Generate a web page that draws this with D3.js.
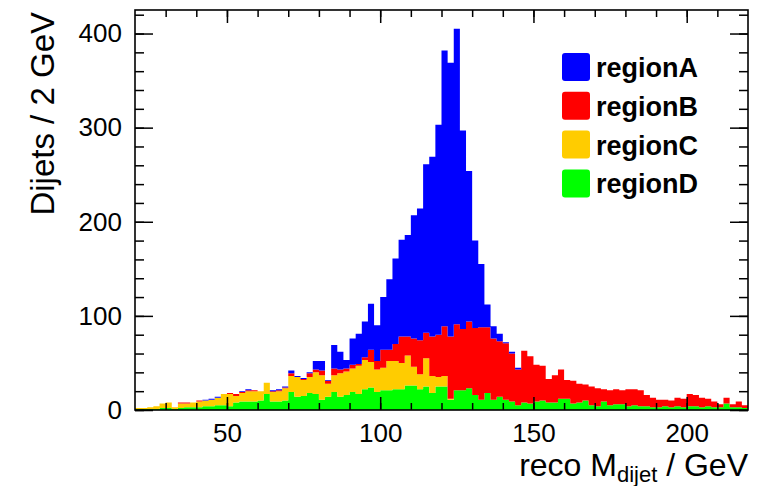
<!DOCTYPE html>
<html>
<head>
<meta charset="utf-8">
<script src="https://cdn.jsdelivr.net/npm/d3@7"></script>
<style>
  body { margin: 0; background: #fff; }
  text { font-family: "Liberation Sans", Arial, Helvetica, sans-serif; }
</style>
</head>
<body>
<svg id="canvas" width="777" height="486"></svg>
<script>
// 2 GeV bins from 20 to 220 GeV (lower edges)
const binLow = d3.range(20, 220, 2);
const binWidth = 2;

// counts per bin
const regionD = [
  1, 1, 1, 1, 2, 2, 1, 2, 3, 3, 3, 4, 4, 5, 5, 4, 8, 9, 9, 9, 10, 17, 9, 9, 10,
  19, 14, 15, 18, 17, 11, 14, 19, 14, 16, 19, 17, 22, 24, 19,
  21, 21, 22, 22, 26, 26, 22, 25, 18, 25, 25,
  11, 21, 21, 23, 16, 11, 18, 11, 14, 11, 9, 5,
  8, 7, 9, 10, 8, 8, 12, 12, 7, 8, 10, 5, 4, 9, 5, 6, 6, 4, 5, 4,
  4, 3, 3, 4, 3, 4, 3, 4, 4, 3, 4, 3, 3, 7, 3, 3, 2
];
const regionC = [
  1, 1, 2, 3, 5, 6, 2, 5, 4, 5, 6, 6, 7, 8, 12, 13, 7, 9, 11, 11, 10, 12, 10, 11, 13,
  17, 21, 17, 17, 23, 26, 14, 18, 25, 25, 25, 30, 31, 27, 24,
  24, 31, 30, 28, 32, 20, 16, 30, 18, 10, 11,
  1, 0, 0, 0, 0, 0, 0, 0, 0, 0, 0, 0,
  0, 0, 0, 0, 0, 0, 0, 0, 0, 0, 0, 0, 0, 0, 0, 0, 0, 0, 0, 0,
  0, 0, 0, 0, 0, 0, 0, 0, 0, 0, 0, 0, 0, 0, 0, 0, 0
];
const regionB = [
  0, 0, 0, 0, 0, 0, 0, 1, 1, 0, 1, 0, 0, 0, 0, 1, 2, 1, 1, 1, 0, 0, 1, 1, 1,
  3, 0, 1, 4, 3, 5, 3, 7, 4, 3, 4, 2, 3, 13, 9,
  19, 12, 18, 28, 20, 30, 36, 27, 42, 45, 53,
  66, 70, 65, 71, 71, 77, 70, 65, 59, 60, 51, 38,
  55, 50, 39, 37, 25, 29, 31, 20, 24, 20, 17, 20, 19, 13, 16, 16, 15, 18, 17, 17,
  12, 10, 8, 7, 7, 9, 9, 13, 12, 10, 8, 6, 3, 6, 3, 6, 3
];
const regionA = [
  0, 0, 0, 0, 0, 0, 0, 0, 0, 0, 0, 1, 1, 1, 0, 0, 0, 1, 1, 0, 0, 0, 1, 1, 1,
  3, 1, 1, 1, 9, 10, 1, 25, 19, 9, 28, 32, 38, 49, 38,
  56, 75, 91, 103, 108, 131, 140, 179, 191, 223, 293,
  291, 314, 211, 160, 93, 67, 24, 13, 8, 1, 2, 2,
  0, 0, 0, 0, 0, 0, 0, 0, 0, 0, 0, 0, 0, 0, 0, 0, 0, 0, 0, 0,
  0, 0, 0, 0, 0, 0, 0, 0, 0, 0, 0, 0, 0, 0, 0, 0, 0
];

const legendNames = ["regionA", "regionB", "regionC", "regionD"];
const xTickLabels = [50, 100, 150, 200];
const yTickLabels = [0, 100, 200, 300, 400];

const colors = { A: "#0000ff", B: "#ff0000", C: "#ffcc00", D: "#00ff00" };

const padL = 135, padR = 748, padT = 10, padB = 410;

const svg = d3.select("#canvas");

const x = d3.scaleLinear().domain([20, 220]).range([padL, padR]);
const y = d3.scaleLinear().domain([0, 425]).range([padB, padT]);

const rows = binLow.map((lo, i) => ({
  lo: lo,
  hi: lo + binWidth,
  D: regionD[i],
  C: regionC[i],
  B: regionB[i],
  A: regionA[i],
}));

// stack from bottom: D, C, B, A
const stack = d3.stack().keys(["D", "C", "B", "A"]);
const layers = stack(rows);

const area = d3
  .area()
  .x((d) => x(d.x))
  .y0((d) => y(d.y0))
  .y1((d) => y(d.y1));

const histG = svg.append("g").attr("class", "hist");

histG
  .selectAll("path")
  .data(layers)
  .join("path")
  .attr("d", (layer) => {
    const pts = [];
    layer.forEach((seg) => {
      pts.push({ x: seg.data.lo, y0: seg[0], y1: seg[1] });
      pts.push({ x: seg.data.hi, y0: seg[0], y1: seg[1] });
    });
    return area(pts);
  })
  .style("fill", (layer) => colors[layer.key])
  .style("stroke", "none");

// axes (ROOT style: ticks pointing inwards, on all four sides)
const axisG = svg.append("g").attr("class", "axes");

function styleAxis(g) {
  g.select(".domain").remove();
  g.selectAll(".tick line").attr("stroke", "#000").attr("stroke-width", 1.5);
  g.selectAll(".tick text")
    .attr("fill", "#000")
    .style("font-size", "26px");
}

const yMinor = d3.range(0, 421, 20);
const xMinor = d3.range(30, 220, 10);

axisG.append("g")
  .attr("transform", `translate(${padL},0)`)
  .call(d3.axisLeft(y).tickValues(yMinor).tickSize(-9).tickFormat(""))
  .call(styleAxis);
axisG.append("g")
  .attr("transform", `translate(${padL},0)`)
  .call(d3.axisLeft(y).tickValues(yTickLabels).tickSize(-18).tickPadding(13))
  .call(styleAxis);

axisG.append("g")
  .attr("transform", `translate(${padR},0)`)
  .call(d3.axisRight(y).tickValues(yMinor).tickSize(-9).tickFormat(""))
  .call(styleAxis);
axisG.append("g")
  .attr("transform", `translate(${padR},0)`)
  .call(d3.axisRight(y).tickValues(yTickLabels).tickSize(-18).tickFormat(""))
  .call(styleAxis);

axisG.append("g")
  .attr("transform", `translate(0,${padB})`)
  .call(d3.axisBottom(x).tickValues(xMinor).tickSize(-7).tickFormat(""))
  .call(styleAxis);
axisG.append("g")
  .attr("transform", `translate(0,${padB})`)
  .call(d3.axisBottom(x).tickValues(xTickLabels).tickSize(-13).tickPadding(14))
  .call(styleAxis);

axisG.append("g")
  .attr("transform", `translate(0,${padT})`)
  .call(d3.axisTop(x).tickValues(xMinor).tickSize(-7).tickFormat(""))
  .call(styleAxis);
axisG.append("g")
  .attr("transform", `translate(0,${padT})`)
  .call(d3.axisTop(x).tickValues(xTickLabels).tickSize(-13).tickFormat(""))
  .call(styleAxis);

// frame
svg.append("rect")
  .attr("x", padL)
  .attr("y", padT)
  .attr("width", padR - padL)
  .attr("height", padB - padT)
  .style("fill", "none")
  .style("stroke", "#000")
  .style("stroke-width", 1.6);

// axis titles
svg.append("text")
  .attr("transform", `translate(54,${padT + 2}) rotate(-90)`)
  .attr("text-anchor", "end")
  .style("font-size", "33px")
  .text("Dijets / 2 GeV");

const xt = svg.append("text")
  .attr("x", padR)
  .attr("y", 476)
  .attr("text-anchor", "end")
  .style("font-size", "32px");
xt.append("tspan").text("reco M");
xt.append("tspan").attr("dy", 6).style("font-size", "22px").text("dijet");
xt.append("tspan").attr("dy", -6).text(" / GeV");

// legend
const legend = svg.append("g").attr("class", "legend");
const legendKeys = ["A", "B", "C", "D"];
const legendRow = legend
  .selectAll("g")
  .data(legendKeys)
  .join("g")
  .attr("transform", (d, i) => `translate(562,${53 + i * 38.8})`);

legendRow.append("rect")
  .attr("width", 28)
  .attr("height", 28)
  .attr("rx", 3)
  .style("fill", (d) => colors[d]);

legendRow.append("text")
  .attr("x", 34)
  .attr("y", 24)
  .style("font-size", "27px")
  .style("font-weight", "bold")
  .text((d, i) => legendNames[i]);
</script>
</body>
</html>
